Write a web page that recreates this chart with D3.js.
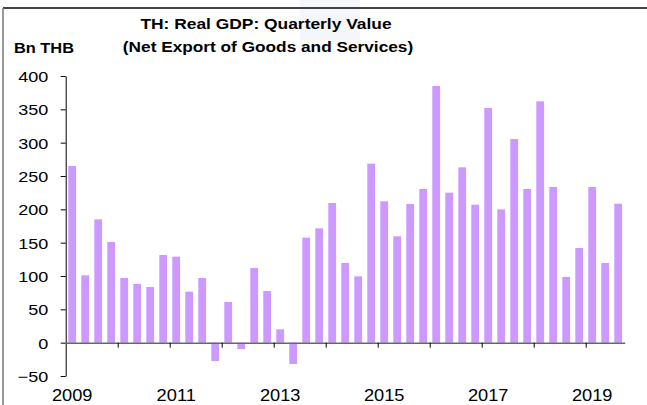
<!DOCTYPE html>
<html>
<head>
<meta charset="utf-8">
<script src="https://cdn.jsdelivr.net/npm/d3@7"></script>
<style>
  body { margin: 0; background: #fff; }
  text { font-family: "Liberation Sans", Arial, sans-serif; fill: #000; }
</style>
</head>
<body>
<svg id="chart"></svg>
<script>
var width = 647,
    height = 405;

// quarters 2009Q1 .. 2019Q3
var years = d3.range(2009, 2020);
var quarters = [];
years.forEach(function(y) {
    for (var q = 1; q <= 4; q++) {
        if (y === 2019 && q > 3) break;
        quarters.push(y + "Q" + q);
    }
});

// net export, Bn THB
var netExport = [
    265, 101, 185, 151,
    97, 88, 83.5, 131.5,
    129, 76.5, 97, -27.5,
    61, -9.5, 112, 77.5,
    20, -32, 157.5, 171.5,
    209.5, 119.5, 99.5, 268.5,
    212, 159.5, 208, 230.5,
    385, 225, 263, 207,
    352, 200, 305.5, 230.5,
    362, 233.5, 98.5, 142,
    233.5, 119.5, 208.5
];

var yTicks = [-50, 0, 50, 100, 150, 200, 250, 300, 350, 400];
var yearLabels = [2009, 2011, 2013, 2015, 2017, 2019];

var svg = d3.select("#chart").attr("width", width).attr("height", height);

var left = 65.7, right = 624.7;

var x = d3.scaleBand()
    .domain(quarters)
    .range([left, right])
    .paddingInner(0.4)
    .paddingOuter(0.2);

var xYear = d3.scaleLinear()
    .domain([2009, 2019.75])
    .range([left, right]);

var y = d3.scaleLinear()
    .domain([-50, 400])
    .range([376, 76]);

// faint watermark
svg.append("rect")
    .attr("x", 300).attr("y", 0).attr("width", 60).attr("height", 40)
    .attr("fill", "#f4f6fb");

// frame
svg.append("line")
    .attr("x1", 3).attr("x2", width).attr("y1", 8).attr("y2", 8)
    .attr("stroke", "#444").attr("stroke-width", 2);
svg.append("line")
    .attr("x1", 3).attr("x2", 3).attr("y1", 8).attr("y2", height)
    .attr("stroke", "#777").attr("stroke-width", 1.5);

// stretch text a bit wider like the original
function stretch(sel, sx) {
    sel.each(function() {
        var t = d3.select(this),
            tx = +t.attr("x") || 0,
            ty = +t.attr("y") || 0;
        t.attr("x", null).attr("y", null)
            .attr("transform", "translate(" + tx + "," + ty + ") scale(" + sx + ",1)");
    });
}

// bars
svg.append("g")
    .selectAll("rect")
    .data(netExport)
    .enter()
    .append("rect")
    .attr("x", function(d, i) { return x(quarters[i]); })
    .attr("width", x.bandwidth())
    .attr("y", function(d) { return y(Math.max(0, d)); })
    .attr("height", function(d) { return Math.abs(y(d) - y(0)); })
    .attr("fill", "#cc99ff");

// y axis
var yAxis = svg.append("g")
    .attr("transform", "translate(" + left + ",0)")
    .call(d3.axisLeft(y).tickValues(yTicks).tickSize(5).tickPadding(12.5).tickSizeOuter(0));
yAxis.select(".domain").attr("stroke", "#000");
yAxis.selectAll(".tick line").attr("stroke", "#000");
yAxis.selectAll(".tick text")
    .style("font-size", "15px")
    .attr("dy", "0.36em")
    .call(stretch, 1.2);

// zero line with year ticks
var zero = svg.append("g")
    .attr("transform", "translate(0," + y(0) + ")")
    .call(d3.axisBottom(xYear).tickValues(d3.range(2010, 2020)).tickSize(5).tickSizeOuter(0).tickFormat(""));
zero.select(".domain").attr("stroke", "#666").attr("stroke-width", 1.5);
zero.selectAll(".tick line").attr("stroke", "#000");

// year labels
svg.selectAll(".year")
    .data(yearLabels)
    .enter()
    .append("text")
    .attr("class", "year")
    .attr("x", function(d) { return x(d + "Q1") + x.bandwidth() / 2; })
    .attr("y", 401)
    .attr("text-anchor", "middle")
    .style("font-size", "16px")
    .text(function(d) { return d; })
    .call(stretch, 1.14);

// titles
svg.append("text")
    .attr("x", 266).attr("y", 29)
    .attr("text-anchor", "middle")
    .style("font-size", "15px").style("font-weight", "bold")
    .text("TH: Real GDP: Quarterly Value")
    .call(stretch, 1.16);
svg.append("text")
    .attr("x", 268).attr("y", 52)
    .attr("text-anchor", "middle")
    .style("font-size", "15px").style("font-weight", "bold")
    .text("(Net Export of Goods and Services)")
    .call(stretch, 1.15);
svg.append("text")
    .attr("x", 14).attr("y", 53)
    .style("font-size", "14px").style("font-weight", "bold")
    .text("Bn THB")
    .call(stretch, 1.17);
</script>
</body>
</html>
